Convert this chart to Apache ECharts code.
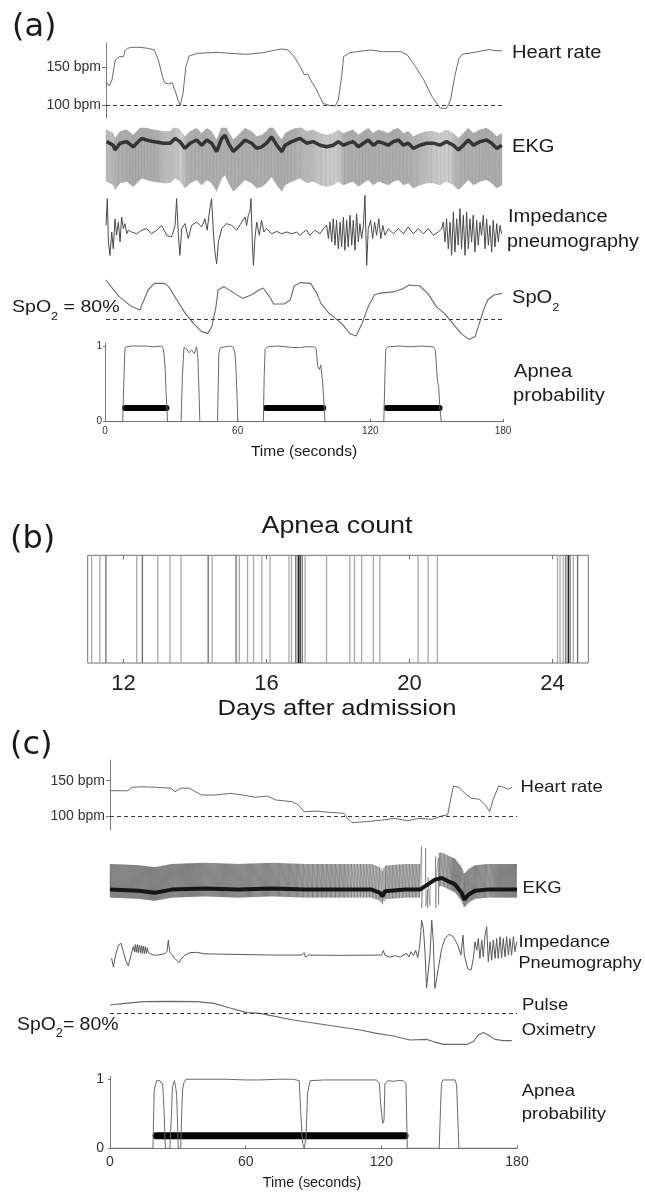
<!DOCTYPE html>
<html>
<head>
<meta charset="utf-8">
<script src="https://cdn.jsdelivr.net/npm/echarts@6/dist/echarts.min.js"></script>
<style>
html,body{margin:0;padding:0;background:#fff;}
#chart{width:645px;height:1194px;}
</style>
</head>
<body>
<div id="chart"></div>
<script>
// ---------- (a) three apnea episodes, 180 s window ----------
// heart rate, [seconds, bpm]
const heartRateA = [[0,130.7],[1.4,125.0],[2.7,132.9],[4.2,159.2],[6.0,163.6],[7.9,163.6],[8.8,172.4],[9.8,174.6],[11.7,175.9],[15.4,175.9],[19.1,174.6],[21.9,172.4],[23.8,159.2],[25.7,137.3],[26.6,129.4],[28.5,127.6],[30.0,129.4],[31.3,119.7],[33.7,98.7],[35.0,115.3],[36.3,150.4],[37.8,164.5],[41.6,168.0],[50.9,169.3],[56.5,168.0],[64.0,166.7],[71.5,168.9],[77.1,172.4],[79.9,173.7],[82.7,172.4],[85.5,163.6],[88.3,150.4],[90.2,139.5],[91.7,140.8],[93.0,132.9],[95.8,119.7],[98.6,102.2],[101.4,99.6],[104.2,98.7],[105.6,106.6],[107.1,137.3],[108.0,163.6],[110.8,168.9],[120.1,172.4],[125.8,170.2],[134.2,170.2],[137.0,165.8],[140.7,150.4],[144.5,132.9],[148.2,111.0],[152.0,95.6],[154.8,95.6],[156.6,106.6],[158.5,137.3],[160.4,161.4],[162.2,167.1],[166.9,168.9],[174.4,173.2],[176.3,171.5],[180,171.5]];
// EKG baseline wander, [seconds, mV]
const ekgBaselineA = [[0.3,0.06],[3.3,-0.03],[4.1,-0.15],[6.4,0.02],[9.4,0.06],[12.4,-0.07],[14.7,0.06],[16.2,0.14],[18.5,0.1],[21.5,0.06],[26.1,0.02],[29.1,0.02],[31.4,0.14],[33.6,0.06],[35.9,-0.11],[38.2,0.02],[41.2,0.1],[43.5,-0.03],[45.8,0.1],[48,0.02],[50.3,-0.19],[52.6,0.14],[54.1,0.22],[55.6,0.02],[57.9,-0.19],[60.9,-0.03],[63.2,0.1],[66.2,0.02],[68.5,-0.11],[70.8,-0.07],[73,0.02],[75.3,0.18],[77.6,-0.03],[79.9,-0.19],[81.4,-0.03],[84.4,0.06],[88.2,0.14],[91.2,0.02],[94.2,0.06],[97.3,-0.03],[100.3,-0.07],[103.3,-0.03],[105.6,0.06],[107.9,-0.03],[110.2,0.02],[112.4,0.06],[114.7,-0.07],[117,0.02],[119.2,0.1],[121.5,-0.03],[123.8,0.06],[126.1,0.02],[128.3,-0.03],[130.6,0.06],[132.9,0.1],[135.2,-0.03],[137.4,0.02],[139.7,-0.11],[142.7,-0.03],[145.8,0.02],[148.8,0.02],[151.8,-0.03],[154.8,0.06],[157.9,-0.03],[160.2,-0.15],[162.4,-0.03],[164.7,0.1],[167,-0.03],[170,0.06],[173,0.1],[175.3,0.02],[177.6,-0.11],[179.9,-0.03]];
// one QRS complex (inverted lead), [offset s, mV]
const qrsShapeA = [[-0.012,0],[-0.006,0.3],[0.004,-1.0],[0.014,0]];
// impedance pneumography, [seconds, a.u.]
const impedanceA = [[0.0,0.22],[0.6,1.11],[1.1,-0.33],[1.8,-0.78],[2.6,0],[3.3,-0.56],[4.1,0.44],[4.8,-0.11],[5.6,0.33],[6.4,-0.33],[7.1,0.5],[7.9,0.11],[8.6,0.28],[9.4,-0.06],[10.1,0.06],[11.7,0],[13.9,-0.06],[16.2,0.06],[18.5,0.11],[20.7,-0.06],[23.0,0.06],[25.3,0.22],[27.6,-0.11],[29.8,-0.17],[31.4,0.22],[32.1,1.11],[32.9,-0.11],[33.6,-0.78],[34.4,0.11],[35.9,0.28],[37.4,-0.22],[38.9,0.22],[41.2,0.33],[43.5,0.17],[45.0,0.44],[46.0,0.06],[47.0,0.67],[48.0,1.11],[48.8,0],[49.5,-0.67],[50.3,-1.06],[51.1,-0.33],[52.6,0.11],[54.8,0.28],[57.1,0.22],[59.4,0.06],[61.7,0.33],[63.2,0.5],[63.9,0.22],[64.7,0.56],[65.4,0.67],[65.9,1.11],[66.5,-0.33],[67.0,-1.11],[67.7,-0.22],[68.5,0.33],[69.7,-0.11],[70.7,0.39],[71.8,0],[73.0,0.11],[75.3,-0.06],[77.6,0.02],[79.8,-0.06],[82.1,0],[84.4,-0.06],[86.7,0],[88.2,-0.11],[89.7,0],[91.2,0.06],[92.7,-0.11],[95.0,0.06],[97.3,-0.06],[98.8,0.11],[100.3,0.22],[101.1,-0.22],[101.8,0.33],[102.6,-0.33],[103.3,0.44],[104.1,-0.44],[104.8,0.39],[105.6,-0.56],[106.4,0.33],[107.1,-0.5],[107.9,0.5],[108.6,-0.61],[109.4,0.39],[110.1,-0.5],[110.9,0.56],[111.7,-0.44],[112.4,0.39],[113.2,-0.61],[113.9,0.61],[114.7,-0.33],[115.4,0.28],[116.2,-0.22],[117.0,0.22],[117.7,1.22],[118.5,-1.11],[119.2,0.11],[120.3,0.39],[121.2,-0.22],[122.1,0.33],[123.0,-0.11],[124.0,0.44],[124.9,-0.22],[125.8,0.22],[126.8,-0.11],[128.3,0.11],[130.6,-0.06],[132.9,0.11],[135.2,-0.06],[137.4,0.17],[139.7,-0.06],[142.0,0.11],[144.2,-0.06],[146.5,0.11],[148.8,-0.11],[151.0,0],[152.6,0.11],[153.3,0.33],[154.1,-0.33],[154.8,0.44],[155.6,-0.56],[156.4,0.33],[157.1,-0.78],[157.9,0.67],[158.6,-0.67],[159.4,0.44],[160.1,-0.44],[160.9,0.78],[161.6,-0.56],[162.4,0.56],[163.2,-0.78],[163.9,0.67],[164.7,-0.56],[165.4,0.44],[166.2,-0.33],[166.9,0.56],[167.7,-0.67],[168.5,0.39],[169.2,-0.44],[170.0,0.33],[170.7,-0.11],[171.5,0.56],[172.3,-0.56],[173.0,0.44],[173.8,-0.44],[174.5,0.22],[175.3,-0.67],[176.0,0.39],[176.8,-0.5],[177.6,0.28],[178.3,-0.33],[179.1,0.22],[179.8,-0.06]];
// oxygen saturation, [seconds, %]
const spo2A = [[0,99.5],[2.3,96.2],[6.0,91.2],[11.7,86.2],[15.4,84.5],[16.3,84.8],[19.1,94.5],[22.0,97.8],[26.6,97.8],[28.5,96.2],[32.2,89.5],[36.0,82.8],[39.7,77.8],[43.5,73.7],[46.3,72.8],[48.1,76.2],[50.0,86.2],[50.9,94.5],[53.7,96.2],[58.4,92.8],[62.2,90.3],[65.9,92.0],[69.6,94.5],[71.5,95.5],[74.3,91.2],[76.2,87.5],[80.9,87.5],[83.7,89.5],[85.5,96.5],[88.4,98.2],[93.0,97.8],[95.8,92.8],[97.7,87.8],[101.4,82.8],[107.1,77.8],[110.8,72.8],[113.6,71.5],[116.4,77.8],[119.2,86.2],[122.0,92.0],[123.9,92.8],[131.4,93.7],[135.1,95.3],[137.9,97.0],[142.6,96.5],[146.3,92.8],[150.1,86.2],[153.8,82.8],[157.6,77.8],[161.3,72.8],[165.0,69.8],[167.8,71.2],[169.7,77.8],[171.6,84.5],[173.5,89.5],[176.3,92.0],[180,92.8]];
// apnea probability, [seconds, p]
const apneaProbA = [[0,0],[8.0,0],[8.6,0.6],[9.0,0.96],[9.6,0.99],[12,1.0],[18,1.0],[22,0.99],[25.6,1.0],[26.3,0.97],[26.7,0.9],[27.2,0.7],[27.6,0.4],[28.3,0],[34.4,0],[35.0,0.6],[35.7,0.98],[36.9,0.96],[38.1,0.91],[39.2,0.95],[40.4,0.9],[41.4,0.99],[42.0,0.85],[42.5,0.4],[42.9,0],[50.9,0],[51.5,0.9],[52.2,0.98],[52.9,1.0],[56.6,1.0],[58.1,0.98],[58.8,0.9],[59.4,0.6],[60.1,0],[71.6,0],[72.0,0.6],[72.4,0.96],[73.6,0.99],[78,1.0],[81.9,0.99],[85,0.98],[87.9,0.98],[91,0.99],[94.7,0.99],[95.5,0.96],[96.2,0.73],[97.0,0.69],[97.3,0.67],[97.6,0.75],[97.9,0.76],[98.5,0.5],[99.0,0.25],[99.5,0],[126.1,0],[126.6,0.6],[127,0.96],[128.1,0.99],[133,1.0],[137.8,0.99],[143,1.0],[148.4,0.99],[149.3,0.95],[149.6,0.87],[150.3,0.56],[150.6,0.5],[150.9,0.47],[151.2,0.3],[151.4,0.2],[152.1,0],[180,0]];
// detected apnea episodes, [start s, end s]
const apneaEventsA = [[9.0,27.8],[72.8,98.7],[127.4,151.3]];

// ---------- (b) apnea count over the stay ----------
const apneaDays   = [11.11,11.34,11.51,12.37,12.53,12.96,13.30,13.61,14.37,14.48,15.15,15.24,15.47,15.64,15.87,16.10,16.63,16.70,16.82,16.89,16.94,17.00,17.08,17.68,18.33,18.46,18.66,18.99,19.17,20.24,20.52,20.78,24.14,24.21,24.30,24.37,24.44,24.49,24.58,24.70];
const apneaCounts = [1,1,2,1,2,1,1,1,2,1,2,1,1,1,1,1,1,1,2,4,4,2,1,1,1,1,1,1,1,1,1,1,1,1,1,2,4,2,1,2];

// ---------- (c) prolonged apnea, 180 s window ----------
const heartRateC = [[0,135.8],[7.8,135.8],[9.6,140.6],[14.1,141.4],[20.5,140.6],[26.9,139.4],[28.7,134.4],[31.4,139.4],[35.1,139.4],[37.8,134.4],[40.5,129.7],[46,129.7],[53.3,132],[58.7,129.7],[64.2,126.5],[69.7,128.2],[73.3,122.7],[80.6,120.3],[83.3,115.6],[86,106.1],[91.5,107],[97,105.2],[103.3,103.8],[105.1,96.7],[107,90.6],[113.3,92],[120.6,94.4],[126,96.7],[131.5,93.4],[137,96.7],[142.4,95.3],[147,100.5],[149.3,101.4],[150.6,122.7],[151.9,142.5],[154.3,140.6],[157,132],[159.7,125.2],[163.4,123.7],[166.1,115.6],[167.9,106.1],[169.4,122.7],[171.9,142.5],[174.3,140.6],[176.1,137.7],[177.9,140.6]];
const ekgBaselineC = [[0,0],[12.5,-0.03],[19.9,-0.08],[27.3,0],[42,0.03],[56.8,0],[71.5,0.03],[86.2,0],[101,0],[115.7,0],[119.4,-0.08],[120.5,-0.17],[121.6,-0.04],[130.5,0],[137.1,0],[143.7,0.25],[146.7,0.29],[149.6,0.21],[152.6,0.13],[155.5,-0.08],[156.7,-0.25],[158.5,-0.13],[161.4,-0.03],[167.3,0],[180,0]];
const qrsShapeC = [[-0.008,0],[0,0.64],[0.008,-0.2],[0.016,0]];
// motion artifact in the EKG lead, [seconds, mV]
const ekgArtifactC = [[137.6,0],[137.8,1.08],[137.9,-0.46],[138.2,0.05],[139.5,0.1],[139.6,1.04],[139.7,-0.42],[140.4,0.0],[140.5,-0.46],[140.7,0.3],[141.5,-0.4],[141.7,0.2],[143.9,0.25],[144.0,0.83],[144.1,-0.46],[144.3,0.3],[145.2,0.79],[145.3,-0.38],[145.5,0.28]];
const impedanceC = [[0.7,-0.13],[1.5,-0.41],[2.5,-0.02],[3.7,0.31],[4.9,0.37],[5.9,0.09],[6.9,-0.19],[8.1,-0.38],[9.3,-0.02],[10.3,0.26],[10.8,0.09],[11.2,0.33],[11.6,0.07],[12.1,0.33],[12.5,0.06],[13.0,0.31],[13.4,0.06],[13.9,0.29],[14.3,0.03],[14.7,0.28],[15.2,0.03],[15.6,0.26],[16.1,0.03],[16.5,0.22],[17.0,0.06],[17.7,0.09],[19.2,-0.02],[21.4,-0.02],[24.3,0.03],[25.2,0.09],[25.8,0.48],[26.4,0.09],[27.3,0],[28.7,-0.13],[30.5,-0.27],[31.7,-0.13],[33.2,-0.02],[35.4,0.06],[38.3,0.07],[42.0,0.02],[56.8,0],[71.5,-0.02],[84.8,-0.02],[85.8,0.06],[86.5,-0.09],[87.7,-0.02],[101,-0.03],[120.1,-0.02],[120.9,0.13],[121.6,-0.02],[123.8,-0.09],[126.1,-0.04],[128.3,-0.09],[129.7,-0.02],[131.2,0.03],[132.2,-0.08],[133.1,0.09],[134.2,-0.04],[135.2,0.14],[136.1,-0.11],[136.8,0.2],[137.4,0.64],[137.8,1.14],[138.6,0.87],[139.3,0.09],[140.0,-1.12],[140.8,-1.08],[141.5,-0.02],[142.3,1.14],[143.0,0.42],[143.7,-1.13],[144.5,-1.08],[145.2,-0.47],[146.7,0.2],[148.2,0.53],[149.9,0.67],[151.9,0.59],[153.8,0.31],[155.2,-0.02],[156.1,0.64],[156.7,-0.02],[158.2,-0.47],[159.7,-0.52],[160.7,-0.13],[161.4,0.42],[162.2,0.14],[162.9,0.53],[163.6,-0.13],[164.4,0.48],[165.1,-0.08],[165.8,0.59],[166.6,0.92],[167.3,-0.24],[168.1,0.42],[168.8,-0.19],[169.5,0.48],[170.3,-0.13],[171.0,0.53],[171.7,-0.13],[172.5,0.59],[173.2,-0.11],[173.9,0.53],[174.7,-0.08],[175.4,0.59],[176.2,-0.02],[176.9,0.53],[177.6,-0.02],[178.4,0.59],[179.1,0.09],[179.9,0.42]];
const spo2C = [[0,84],[6.6,84.8],[15,85.7],[26.5,85.8],[38.7,85.7],[46,84.8],[53.1,82.5],[60.6,80.2],[66.3,79.8],[81.1,76.5],[95.8,74],[110.6,71.5],[117.9,69.8],[125.3,68.5],[132.7,66.5],[140.1,66.8],[143,65.7],[147.4,64.3],[157.8,64.3],[160.7,65.7],[162.9,69],[165.1,70.3],[167.3,69],[170.3,66.8],[173.9,66.2],[177.7,66.2]];
const apneaProbC = [[0,0],[19.0,0],[19.3,0.5],[19.6,0.85],[20.0,0.9],[20.6,0.98],[22.1,0.98],[23.3,0.92],[23.9,0.55],[24.5,0],[26.5,0],[27.2,0.5],[27.6,0.89],[28.5,0.98],[29.2,0.85],[29.5,0.75],[30.2,0],[31.3,0],[31.7,0.5],[32.1,0.85],[32.7,0.95],[33.6,1.0],[45,1.0],[51.6,1.0],[60,0.99],[66.3,0.99],[75,1.0],[81.1,1.0],[83.7,0.98],[84.3,0.55],[85.2,0.07],[85.9,0],[86.7,0.17],[87.4,0.8],[88.5,0.98],[95,0.99],[103.2,0.99],[110,0.99],[117.9,0.99],[119.1,0.94],[119.7,0.65],[120.6,0.36],[121.2,0.41],[121.6,0.94],[123.1,0.98],[125.3,0.97],[127,0.98],[129.7,0.98],[130.9,0.94],[131.5,0],[145.6,0],[146.2,0.6],[146.6,0.94],[147.3,0.99],[152.6,0.99],[153.3,0.92],[154.3,0],[180,0]];
const apneaEventsC = [[20.4,130.5]];

// ---------- tick labels ----------
const timeTicks = [0,60,120,180];
const bpmTicks = [100,150];
const probTicks = [0,1];
const dayTicks = [12,16,20,24];

// ---------- helpers ----------
function lerp(pairs, t) {
  if (t <= pairs[0][0]) return pairs[0][1];
  for (let i = 1; i < pairs.length; i++) {
    if (t <= pairs[i][0]) {
      const [t0, v0] = pairs[i - 1], [t1, v1] = pairs[i];
      return v0 + (v1 - v0) * (t - t0) / (t1 - t0);
    }
  }
  return pairs[pairs.length - 1][1];
}
// EKG trace: one QRS complex per heartbeat, timed by the heart-rate series
function ekgTrace(rate, baseline, shape, artifact) {
  const pts = [];
  const skipFrom = artifact ? artifact[0][0] - 0.1 : Infinity;
  const skipTo = artifact ? artifact[artifact.length - 1][0] + 0.1 : -Infinity;
  let t = 0.15;
  while (t < 180) {
    if (t < skipFrom || t > skipTo) {
      shape.forEach(([dt, dv]) => pts.push([t + dt, lerp(baseline, t + dt) + dv]));
    }
    t += 60 / lerp(rate, t);
  }
  if (artifact) artifact.forEach(p => pts.push(p));
  pts.sort((a, b) => a[0] - b[0]);
  return pts;
}

const FONT = 'Liberation Sans, Arial, sans-serif';
const TRACE = '#6a6a6a';
const AXIS = '#7a7a7a';
const BAR_LEVEL = 0.18;

const grids = [
  {left: 106, top: 43, width: 396, height: 75},          // 0 heart rate (a)
  {left: 106, top: 128, width: 396, height: 64},         // 1 EKG (a)
  {left: 106, top: 191.5, width: 396, height: 76.5},     // 2 impedance (a)
  {left: 106, top: 275, width: 396, height: 70},         // 3 SpO2 (a)
  {left: 105, top: 343, width: 398, height: 78.7},       // 4 apnea probability (a)
  {left: 87.7, top: 555.3, width: 500.6, height: 107.7, show: true, borderColor: '#6f6f6f', borderWidth: 1}, // 5 apnea count (b)
  {left: 110, top: 760, width: 407, height: 70},         // 6 heart rate (c)
  {left: 110, top: 840, width: 407, height: 72},         // 7 EKG (c)
  {left: 110, top: 916, width: 407, height: 76},         // 8 impedance (c)
  {left: 110, top: 995, width: 407, height: 55},         // 9 SpO2 (c)
  {left: 110, top: 1076.5, width: 407, height: 71.8}     // 10 apnea probability (c)
];

function hiddenTime(i) {
  return {type: 'value', gridIndex: i, min: 0, max: 180, show: false};
}
function timeAxis(i, size, margin) {
  return {
    type: 'value', gridIndex: i, min: 0, max: 180, interval: 60,
    axisLine: {show: true, lineStyle: {color: AXIS, width: 1}},
    axisTick: {show: true, inside: true, length: 3, lineStyle: {color: AXIS}},
    axisLabel: {fontFamily: FONT, fontSize: size, color: '#333', margin: margin,
                customValues: timeTicks},
    splitLine: {show: false}
  };
}
function hidden(i, min, max) {
  return {type: 'value', gridIndex: i, min, max, show: false};
}
function bpmAxis(i, min, max) {
  return {
    type: 'value', gridIndex: i, min, max,
    axisLine: {show: true, lineStyle: {color: AXIS, width: 1}},
    axisTick: {show: true, length: 4, customValues: bpmTicks, lineStyle: {color: AXIS}},
    axisLabel: {fontFamily: FONT, fontSize: 14, color: '#333', margin: 5,
                customValues: bpmTicks, formatter: '{value} bpm'},
    splitLine: {show: false}
  };
}
function probAxis(i, size, margin) {
  return {
    type: 'value', gridIndex: i, min: 0, max: 1.04,
    axisLine: {show: true, lineStyle: {color: AXIS, width: 1}},
    axisTick: {show: true, length: 2, customValues: probTicks, lineStyle: {color: AXIS}},
    axisLabel: {fontFamily: FONT, fontSize: size, color: '#333', margin: margin,
                customValues: probTicks},
    splitLine: {show: false}
  };
}
function dayAxis(pos) {
  return {
    type: 'value', gridIndex: 5, min: 11, max: 25, position: pos,
    axisLine: {show: false},
    axisTick: {show: true, inside: true, length: 4, customValues: dayTicks, lineStyle: {color: '#6f6f6f'}},
    axisLabel: {show: pos === 'bottom', fontFamily: FONT, fontSize: 22, color: '#222', margin: 10,
                customValues: dayTicks},
    splitLine: {show: false}
  };
}

const xAxes = [
  hiddenTime(0), hiddenTime(1), hiddenTime(2), hiddenTime(3), timeAxis(4, 10, 5),
  dayAxis('bottom'),
  hiddenTime(6), hiddenTime(7), hiddenTime(8), hiddenTime(9), timeAxis(10, 14, 7),
  dayAxis('top')
];
const yAxes = [
  bpmAxis(0, 82.9, 181.6),
  hidden(1, -1.2, 0.4),
  hidden(2, -1.2, 1.35),
  hidden(3, 67, 102),
  probAxis(4, 10, 3),
  hidden(5, 0, 1),
  bpmAxis(6, 80.2, 179.3),
  hidden(7, -0.56, 1.24),
  hidden(8, -1.25, 1.28),
  hidden(9, 61.5, 89),
  probAxis(10, 14, 6)
];

function trace(i, data, color, width, extra) {
  return Object.assign({
    type: 'line', xAxisIndex: i, yAxisIndex: i, data,
    showSymbol: false, symbol: 'none', silent: true, animation: false,
    lineStyle: {color, width}
  }, extra || {});
}
function dashedAt(value) {
  return {
    silent: true, symbol: ['none', 'none'], label: {show: false}, animation: false,
    lineStyle: {type: [4, 3], color: '#3a3a3a', width: 1},
    data: [{yAxis: value}]
  };
}
function episodeBars(i, data, width) {
  return {
    type: 'custom', xAxisIndex: i, yAxisIndex: i, data, silent: true, animation: false,
    renderItem: (params, api) => {
      const a = api.coord([api.value(0), BAR_LEVEL]);
      const b = api.coord([api.value(1), BAR_LEVEL]);
      return {type: 'line', shape: {x1: a[0], y1: a[1], x2: b[0], y2: b[1]},
              style: {stroke: '#000', lineWidth: width, lineCap: 'round'}};
    }
  };
}
const countShades = ['#a9a9a9', '#6c6c6c', '#3c3c3c', '#101010'];

const series = [
  trace(0, heartRateA, TRACE, 1, {markLine: dashedAt(100)}),
  trace(1, ekgTrace(heartRateA, ekgBaselineA, qrsShapeA), 'rgba(90,90,90,0.42)', 0.6),
  trace(1, ekgBaselineA, 'rgba(30,30,30,0.85)', 3.5),
  trace(2, impedanceA, '#4a4a4a', 1),
  trace(3, spo2A, TRACE, 1.1, {markLine: dashedAt(80)}),
  trace(4, apneaProbA, TRACE, 1),
  episodeBars(4, apneaEventsA, 6),
  {
    type: 'custom', xAxisIndex: 5, yAxisIndex: 5, silent: true, animation: false,
    data: apneaDays.map((d, k) => [d, apneaCounts[k]]),
    renderItem: (params, api) => {
      const top = api.coord([api.value(0), 1]);
      const bot = api.coord([api.value(0), 0]);
      const c = Math.min(api.value(1), 4);
      return {type: 'rect', shape: {x: top[0] - 0.65, y: top[1], width: 1.3, height: bot[1] - top[1]},
              style: {fill: countShades[c - 1]}};
    }
  },
  trace(6, heartRateC, TRACE, 1, {markLine: dashedAt(100)}),
  trace(7, ekgTrace(heartRateC, ekgBaselineC, qrsShapeC, ekgArtifactC), 'rgba(60,60,60,0.6)', 0.7),
  trace(7, ekgBaselineC, '#151515', 4),
  trace(8, impedanceC, '#5a5a5a', 1),
  trace(9, spo2C, TRACE, 1.1, {markLine: dashedAt(80)}),
  trace(10, apneaProbC, TRACE, 1),
  episodeBars(10, apneaEventsC, 7)
];

// ---------- text ----------
function label(x, y, text, size, sx, align) {
  return {type: 'text', x, y, scaleX: sx || 1, silent: true,
          style: {text, fontFamily: FONT, fontSize: size, fill: '#1a1a1a',
                  textAlign: align || 'left', textVerticalAlign: 'middle'}};
}
function panelTag(x, y, text) {
  return {type: 'text', x, y, silent: true,
          style: {text, fontFamily: 'DejaVu Sans, sans-serif', fontSize: 32, fill: '#1a1a1a',
                  textAlign: 'left', textVerticalAlign: 'middle'}};
}
function spo2Label(x, y, tail, size, sx) {
  const f = {fontFamily: FONT, fill: '#1a1a1a'};
  return {type: 'text', x, y, scaleX: sx, silent: true,
          style: {text: '{b|SpO}{s|2}' + (tail ? '{b|' + tail + '}' : ''),
                  textAlign: 'left', textVerticalAlign: 'middle',
                  rich: {b: Object.assign({fontSize: size, lineHeight: 30}, f),
                         s: Object.assign({fontSize: Math.round(size * 0.65), lineHeight: 12, verticalAlign: 'bottom'}, f)}}};
}

const graphics = [
  panelTag(12, 27.5, '(a)'),
  label(512, 53.5, 'Heart rate', 17.5, 1.15),
  label(512, 147.5, 'EKG', 17.5, 1.15),
  label(508, 217, 'Impedance', 17.5, 1.15),
  label(507, 242, 'pneumography', 17.5, 1.13),
  spo2Label(512, 298.5, '', 17.5, 1.15),
  spo2Label(12, 307.5, ' = 80%', 17, 1.15),
  label(514, 372, 'Apnea', 17.5, 1.15),
  label(513, 396, 'probability', 17.5, 1.15),
  label(304, 452, 'Time (seconds)', 15.5, 1, 'center'),

  panelTag(10, 540, '(b)'),
  label(337, 527, 'Apnea count', 23, 1.17, 'center'),
  label(337, 709, 'Days after admission', 21.5, 1.19, 'center'),

  panelTag(10, 746, '(c)'),
  label(520.6, 787.5, 'Heart rate', 16.5, 1.12),
  label(522.6, 888, 'EKG', 16.5, 1.12),
  label(518.5, 942, 'Impedance', 16.5, 1.12),
  label(518.5, 963, 'Pneumography', 16.5, 1.1),
  label(522, 1005, 'Pulse', 16.5, 1.12),
  label(521.7, 1030, 'Oximetry', 16.5, 1.12),
  spo2Label(17, 1025, '= 80%', 18.5, 1.05),
  label(521.7, 1091, 'Apnea', 16.5, 1.12),
  label(521.7, 1114, 'probability', 16.5, 1.12),
  label(312, 1183, 'Time (seconds)', 14.4, 1, 'center')
];

const chart = echarts.init(document.getElementById('chart'), null, {renderer: 'canvas'});
chart.setOption({
  animation: false,
  backgroundColor: '#fff',
  grid: grids,
  xAxis: xAxes,
  yAxis: yAxes,
  series,
  graphic: {elements: graphics}
});
</script>
</body>
</html>
